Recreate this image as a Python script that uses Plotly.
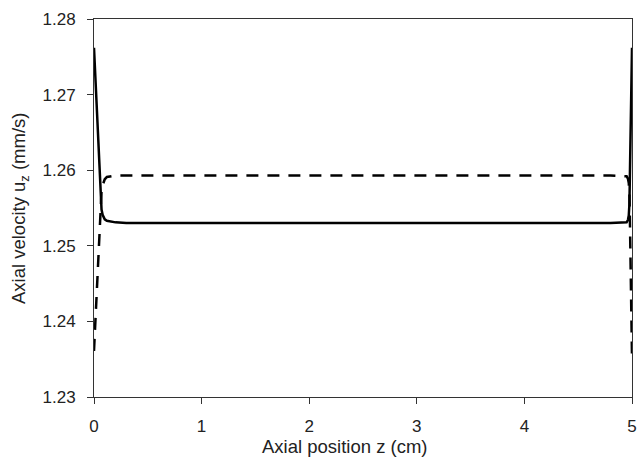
import plotly.graph_objects as go

# Solid curve (axial velocity, case 1)
z_solid = [0.0, 0.02, 0.04, 0.06, 0.07, 0.08, 0.09, 0.10, 0.12, 0.15, 0.20, 0.30,
           1.0, 2.0, 3.0, 4.0, 4.80, 4.95, 4.962, 4.970, 4.976, 4.980, 4.990, 5.0]
u_solid = [1.2762, 1.2696, 1.2630, 1.2564, 1.2548, 1.2541, 1.2537, 1.2535, 1.2533, 1.2532, 1.2531, 1.2530,
           1.2530, 1.2530, 1.2530, 1.2530, 1.2530, 1.2531, 1.2534, 1.2540, 1.2555, 1.2590, 1.2680, 1.2762]

# Dashed curve (axial velocity, case 2)
z_dash = [0.0, 0.02, 0.04, 0.06, 0.07, 0.08, 0.09, 0.10, 0.12, 0.15, 0.20, 0.30,
          1.0, 2.0, 3.0, 4.0, 4.80, 4.95, 4.962, 4.970, 4.976, 4.980, 4.990, 5.0]
u_dash = [1.2361, 1.2425, 1.2490, 1.2555, 1.2572, 1.2580, 1.2585, 1.2588, 1.2591, 1.2592, 1.2593, 1.2593,
          1.2593, 1.2593, 1.2593, 1.2593, 1.2593, 1.2592, 1.2589, 1.2583, 1.2568, 1.2540, 1.2450, 1.2353]

x_ticks = [0, 1, 2, 3, 4, 5]
y_ticks = [1.23, 1.24, 1.25, 1.26, 1.27, 1.28]

fig = go.Figure()
fig.add_trace(go.Scatter(x=z_dash, y=u_dash, mode="lines",
                         line=dict(color="black", width=2.5, dash="12px,9px"),
                         showlegend=False, cliponaxis=False))
fig.add_trace(go.Scatter(x=z_solid, y=u_solid, mode="lines",
                         line=dict(color="black", width=2.5),
                         showlegend=False, cliponaxis=False))

axis_common = dict(showgrid=False, zeroline=False, showline=True, linecolor="#333333",
                   linewidth=1, mirror=True, ticks="outside", ticklen=6,
                   tickcolor="#333333", tickfont=dict(size=17, color="#222222"),
                   automargin=False)

fig.update_layout(
    width=638, height=465,
    margin=dict(l=94, r=6, t=19, b=68, autoexpand=False),
    paper_bgcolor="white", plot_bgcolor="white",
    font=dict(family="Liberation Sans, Arial, sans-serif", color="#222222"),
    xaxis=dict(range=[0, 5], tickvals=x_ticks, ticktext=[str(v) for v in x_ticks],
               ticklabelstandoff=8, **axis_common),
    yaxis=dict(range=[1.23, 1.28], tickvals=y_ticks, ticktext=[f"{v:.2f}" for v in y_ticks],
               ticklabelstandoff=8, **axis_common),
    annotations=[
        dict(text="Axial position z (cm)", xref="paper", yref="paper", x=0.4665, y=-0.132,
             xanchor="center", yanchor="middle", showarrow=False,
             font=dict(size=18.5, color="#222222")),
        dict(text="Axial velocity u<sub>z</sub> (mm/s)", xref="paper", yref="paper",
             x=-0.1375, y=0.5, xanchor="center", yanchor="middle", textangle=-90,
             showarrow=False, font=dict(size=18.5, color="#222222")),
    ],
)

fig.write_html("out.html", config={"displayModeBar": False},
               post_script="document.body.style.margin='0';document.body.style.overflow='hidden';")
